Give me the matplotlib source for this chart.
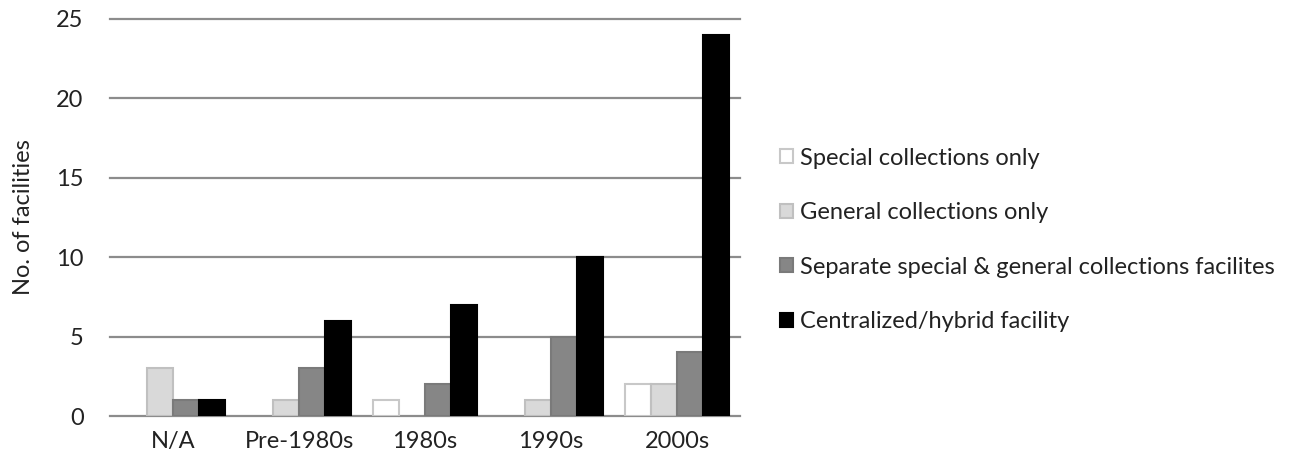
import numpy as np
import matplotlib.pyplot as plt
from matplotlib.patches import Patch

plt.rcParams['font.family'] = ['Lato', 'DejaVu Sans']

categories = ['N/A', 'Pre-1980s', '1980s', '1990s', '2000s']
special_only = [0, 0, 1, 0, 2]
general_only = [3, 1, 0, 1, 2]
separate = [1, 3, 2, 5, 4]
centralized = [1, 6, 7, 10, 24]

series_names = ['Special collections only', 'General collections only',
                'Separate special & general collections facilites', 'Centralized/hybrid facility']
faces = ['#ffffff', '#d9d9d9', '#868686', '#000000']
edges = ['#c8c8c8', '#c0c0c0', '#7a7a7a', '#000000']

fig = plt.figure(figsize=(12.99, 4.63), dpi=100)
ax = fig.add_axes([0.0847, 0.1015, 0.4850, 0.8575])

x = np.arange(len(categories))
w = 0.205
data = [special_only, general_only, separate, centralized]
for i, vals in enumerate(data):
    vals = np.array(vals)
    keep = vals > 0   # empty bars are not drawn in the original
    ax.bar(x[keep] + (i - 1.5) * w, vals[keep], w, color=faces[i], edgecolor=edges[i],
           linewidth=1.5, zorder=3)

for yv in range(0, 26, 5):
    ax.axhline(yv, color='#8c8c8c', linewidth=1.6, zorder=1, clip_on=False)

ax.set_xlim(-0.5, 4.5)
ax.set_ylim(0, 25)
ax.set_yticks(range(0, 26, 5))
ax.set_xticks(x)
ax.set_xticklabels(categories)
for s in ax.spines.values():
    s.set_visible(False)
ax.tick_params(axis='both', length=0, labelsize=17, colors='#222222')
ax.tick_params(axis='y', pad=19)
ax.tick_params(axis='x', pad=11)
ax.set_ylabel('No. of facilities', fontsize=17, color='#222222', labelpad=16)

handles = [Patch(facecolor=faces[i], edgecolor=edges[i], linewidth=1.5) for i in range(4)]
fig.legend(handles, series_names, loc='center left', bbox_to_anchor=(0.584, 0.482),
           frameon=False, fontsize=17, handlelength=0.55, handleheight=0.55,
           handletextpad=0.3, labelspacing=1.42, labelcolor='#222222')

fig.savefig('out.png', dpi=100)
